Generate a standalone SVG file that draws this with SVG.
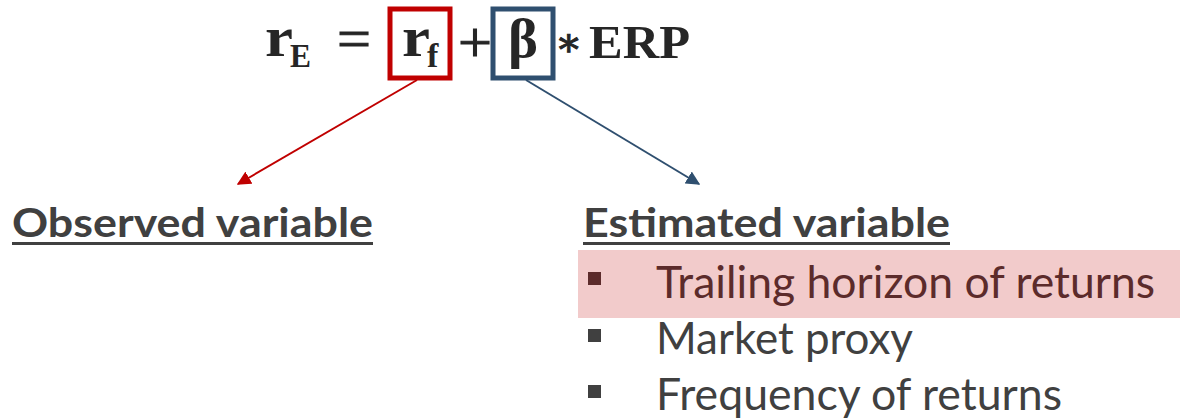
<svg xmlns="http://www.w3.org/2000/svg" width="1180" height="418" viewBox="0 0 1180 418">
<style>
.eq{font-family:"Liberation Serif","DejaVu Serif",serif;font-weight:bold;fill:#262626}
.op{font-family:"Liberation Serif","DejaVu Serif",serif;fill:#262626;stroke:#262626;stroke-width:1}
.head{font-family:Lato,"Liberation Sans",sans-serif;font-weight:bold;font-size:40px;fill:#404040}
.item{font-family:Lato,"Liberation Sans",sans-serif;font-size:44px;fill:#404040}
.hl{fill:#5c2b2b}
</style>
<defs>
<marker id="ahR" viewBox="0 0 10 10" refX="9" refY="5" markerWidth="14" markerHeight="14" markerUnits="userSpaceOnUse" orient="auto"><path d="M0,0 L10,5 L0,10 z" fill="#c00000"/></marker>
<marker id="ahB" viewBox="0 0 10 10" refX="9" refY="5" markerWidth="14" markerHeight="14" markerUnits="userSpaceOnUse" orient="auto"><path d="M0,0 L10,5 L0,10 z" fill="#2f4f6f"/></marker>
</defs>
<g id="equation">
<text class="eq" x="265" y="56" font-size="56" textLength="28" lengthAdjust="spacingAndGlyphs">r</text>
<text class="eq" x="290" y="67" font-size="34" textLength="21" lengthAdjust="spacingAndGlyphs">E</text>
<text class="op" x="337" y="58" font-size="58" textLength="34" lengthAdjust="spacingAndGlyphs">=</text>
<text class="op" x="458" y="62" font-size="58" textLength="34" lengthAdjust="spacingAndGlyphs">+</text>
<text class="op" x="555" y="56" font-size="40">∗</text>
<text class="eq" x="589" y="58" font-size="47" textLength="101" lengthAdjust="spacingAndGlyphs">ERP</text>
</g>
<g id="rf">
<rect x="390" y="9" width="60" height="69" fill="none" stroke="#c00000" stroke-width="5"/>
<text class="eq" x="402" y="56" font-size="56" textLength="28" lengthAdjust="spacingAndGlyphs">r</text>
<text class="eq" x="427" y="67" font-size="34">f</text>
</g>
<g id="beta">
<rect x="493" y="9" width="60" height="69" fill="none" stroke="#2f4f6f" stroke-width="5"/>
<text class="eq" x="508" y="57" font-size="54" textLength="30" lengthAdjust="spacingAndGlyphs">β</text>
</g>
<g id="connectors">
<line x1="417" y1="80" x2="238" y2="184" stroke="#c00000" stroke-width="2" marker-end="url(#ahR)"/>
<line x1="526" y1="80" x2="699" y2="184" stroke="#2f4f6f" stroke-width="2" marker-end="url(#ahB)"/>
</g>
<g id="observed">
<text class="head" x="12" y="237" textLength="361" lengthAdjust="spacingAndGlyphs">Observed variable</text>
<rect x="12" y="242" width="361" height="3" fill="#404040"/>
</g>
<g id="estimated">
<text class="head" x="583" y="237" textLength="367" lengthAdjust="spacingAndGlyphs">Estimated variable</text>
<rect x="583" y="242" width="367" height="3" fill="#404040"/>
<rect x="578" y="250" width="602" height="68" fill="#f2cbcb"/>
<rect x="588" y="272" width="13" height="13" class="hl"/>
<text class="item hl" x="656" y="298" textLength="499" lengthAdjust="spacingAndGlyphs">Trailing horizon of returns</text>
<rect x="588" y="329" width="13" height="13" fill="#404040"/>
<text class="item" x="656" y="354" textLength="257" lengthAdjust="spacingAndGlyphs">Market proxy</text>
<rect x="588" y="385" width="13" height="13" fill="#404040"/>
<text class="item" x="656" y="410" textLength="406" lengthAdjust="spacingAndGlyphs">Frequency of returns</text>
</g>
</svg>
